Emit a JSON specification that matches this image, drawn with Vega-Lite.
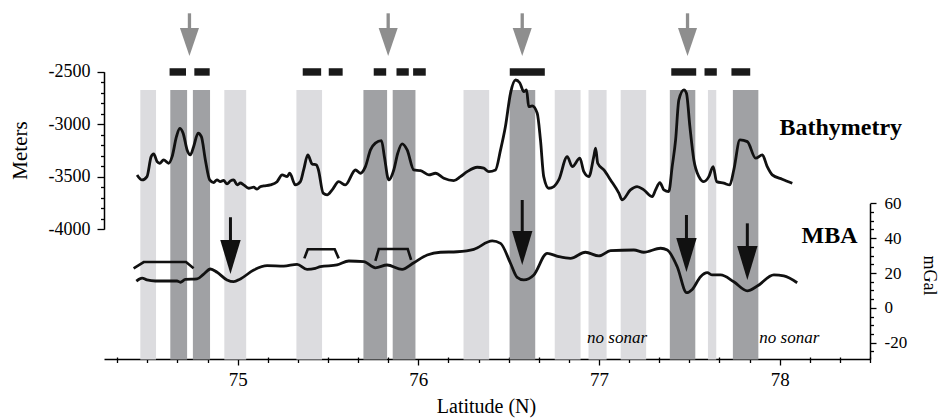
{
  "$schema": "https://vega.github.io/schema/vega-lite/v6.json",
  "width": 766,
  "height": 354,
  "autosize": {"type": "none"},
  "padding": {"left": 104, "top": 5, "right": 69, "bottom": 59},
  "background": "white",
  "config": {"view": {"stroke": null}},
  "datasets": {
    "bands": [
      {"lat": 74.461, "lat2": 74.548, "kind": "light"},
      {"lat": 74.627, "lat2": 74.720, "kind": "dark"},
      {"lat": 74.752, "lat2": 74.847, "kind": "dark"},
      {"lat": 74.926, "lat2": 75.047, "kind": "light"},
      {"lat": 75.325, "lat2": 75.467, "kind": "light"},
      {"lat": 75.696, "lat2": 75.827, "kind": "dark"},
      {"lat": 75.858, "lat2": 75.984, "kind": "dark"},
      {"lat": 76.250, "lat2": 76.392, "kind": "light"},
      {"lat": 76.505, "lat2": 76.647, "kind": "dark"},
      {"lat": 76.755, "lat2": 76.898, "kind": "light"},
      {"lat": 76.942, "lat2": 77.042, "kind": "light"},
      {"lat": 77.120, "lat2": 77.261, "kind": "light"},
      {"lat": 77.392, "lat2": 77.533, "kind": "dark"},
      {"lat": 77.603, "lat2": 77.649, "kind": "light"},
      {"lat": 77.741, "lat2": 77.882, "kind": "dark"}
    ],
    "bars": [
      {"lat": 74.623, "lat2": 74.714},
      {"lat": 74.760, "lat2": 74.845},
      {"lat": 75.360, "lat2": 75.462},
      {"lat": 75.504, "lat2": 75.581},
      {"lat": 75.753, "lat2": 75.822},
      {"lat": 75.879, "lat2": 75.947},
      {"lat": 75.971, "lat2": 76.041},
      {"lat": 76.506, "lat2": 76.700},
      {"lat": 77.400, "lat2": 77.538},
      {"lat": 77.584, "lat2": 77.652},
      {"lat": 77.733, "lat2": 77.837}
    ],
    "grayArrows": [{"lat": 74.733}, {"lat": 75.833}, {"lat": 76.575}, {"lat": 77.490}],
    "blackArrows": [
      {"lat": 74.96, "from": 52.0, "to": 29.2},
      {"lat": 76.575, "from": 61.9, "to": 34.3},
      {"lat": 77.484, "from": 53.3, "to": 30.3},
      {"lat": 77.821, "from": 48.5, "to": 25.7}
    ],
    "bathy": [
      {"lat": 74.443, "depth": -3483}, {"lat": 74.471, "depth": -3531}, {"lat": 74.498, "depth": -3499},
      {"lat": 74.521, "depth": -3309}, {"lat": 74.535, "depth": -3283}, {"lat": 74.554, "depth": -3357},
      {"lat": 74.568, "depth": -3372}, {"lat": 74.590, "depth": -3340}, {"lat": 74.618, "depth": -3372},
      {"lat": 74.637, "depth": -3309}, {"lat": 74.661, "depth": -3119}, {"lat": 74.679, "depth": -3039},
      {"lat": 74.698, "depth": -3086}, {"lat": 74.720, "depth": -3245}, {"lat": 74.738, "depth": -3293},
      {"lat": 74.756, "depth": -3214}, {"lat": 74.781, "depth": -3086}, {"lat": 74.799, "depth": -3119},
      {"lat": 74.821, "depth": -3340}, {"lat": 74.845, "depth": -3531}, {"lat": 74.867, "depth": -3556},
      {"lat": 74.885, "depth": -3530}, {"lat": 74.904, "depth": -3547}, {"lat": 74.922, "depth": -3535},
      {"lat": 74.941, "depth": -3569}, {"lat": 74.960, "depth": -3540}, {"lat": 74.978, "depth": -3531},
      {"lat": 74.997, "depth": -3578}, {"lat": 75.015, "depth": -3560}, {"lat": 75.033, "depth": -3578},
      {"lat": 75.061, "depth": -3610}, {"lat": 75.089, "depth": -3600}, {"lat": 75.107, "depth": -3619},
      {"lat": 75.125, "depth": -3595}, {"lat": 75.144, "depth": -3588}, {"lat": 75.181, "depth": -3578},
      {"lat": 75.218, "depth": -3547}, {"lat": 75.246, "depth": -3483}, {"lat": 75.274, "depth": -3499},
      {"lat": 75.288, "depth": -3467}, {"lat": 75.319, "depth": -3578}, {"lat": 75.347, "depth": -3547},
      {"lat": 75.365, "depth": -3436}, {"lat": 75.388, "depth": -3293}, {"lat": 75.412, "depth": -3378},
      {"lat": 75.436, "depth": -3388}, {"lat": 75.447, "depth": -3436}, {"lat": 75.473, "depth": -3657},
      {"lat": 75.495, "depth": -3673}, {"lat": 75.523, "depth": -3626}, {"lat": 75.559, "depth": -3547},
      {"lat": 75.596, "depth": -3578}, {"lat": 75.652, "depth": -3436}, {"lat": 75.679, "depth": -3467},
      {"lat": 75.707, "depth": -3404}, {"lat": 75.735, "depth": -3245}, {"lat": 75.762, "depth": -3181},
      {"lat": 75.796, "depth": -3157}, {"lat": 75.812, "depth": -3309}, {"lat": 75.836, "depth": -3531},
      {"lat": 75.864, "depth": -3436}, {"lat": 75.886, "depth": -3277}, {"lat": 75.910, "depth": -3188},
      {"lat": 75.938, "depth": -3245}, {"lat": 75.975, "depth": -3436}, {"lat": 76.012, "depth": -3442},
      {"lat": 76.058, "depth": -3483}, {"lat": 76.095, "depth": -3467}, {"lat": 76.141, "depth": -3515},
      {"lat": 76.196, "depth": -3537}, {"lat": 76.233, "depth": -3499}, {"lat": 76.270, "depth": -3452},
      {"lat": 76.326, "depth": -3410}, {"lat": 76.362, "depth": -3419}, {"lat": 76.390, "depth": -3452},
      {"lat": 76.427, "depth": -3436}, {"lat": 76.455, "depth": -3245}, {"lat": 76.482, "depth": -3023},
      {"lat": 76.510, "depth": -2706}, {"lat": 76.538, "depth": -2579}, {"lat": 76.561, "depth": -2605},
      {"lat": 76.584, "depth": -2690}, {"lat": 76.599, "depth": -2674}, {"lat": 76.611, "depth": -2833},
      {"lat": 76.630, "depth": -2826}, {"lat": 76.658, "depth": -2896}, {"lat": 76.676, "depth": -3150},
      {"lat": 76.694, "depth": -3499}, {"lat": 76.722, "depth": -3610}, {"lat": 76.750, "depth": -3594},
      {"lat": 76.777, "depth": -3531}, {"lat": 76.824, "depth": -3309}, {"lat": 76.852, "depth": -3404},
      {"lat": 76.894, "depth": -3324}, {"lat": 76.916, "depth": -3452}, {"lat": 76.944, "depth": -3499},
      {"lat": 76.971, "depth": -3309}, {"lat": 76.981, "depth": -3229}, {"lat": 76.993, "depth": -3372},
      {"lat": 77.027, "depth": -3436}, {"lat": 77.064, "depth": -3531}, {"lat": 77.110, "depth": -3657},
      {"lat": 77.128, "depth": -3721}, {"lat": 77.174, "depth": -3626}, {"lat": 77.211, "depth": -3594},
      {"lat": 77.248, "depth": -3626}, {"lat": 77.295, "depth": -3690}, {"lat": 77.313, "depth": -3626},
      {"lat": 77.337, "depth": -3556}, {"lat": 77.359, "depth": -3626}, {"lat": 77.386, "depth": -3642},
      {"lat": 77.405, "depth": -3404}, {"lat": 77.424, "depth": -3150}, {"lat": 77.442, "depth": -2769},
      {"lat": 77.470, "depth": -2674}, {"lat": 77.484, "depth": -2706}, {"lat": 77.503, "depth": -3023},
      {"lat": 77.525, "depth": -3340}, {"lat": 77.553, "depth": -3499}, {"lat": 77.580, "depth": -3547},
      {"lat": 77.608, "depth": -3499}, {"lat": 77.632, "depth": -3404}, {"lat": 77.651, "depth": -3547},
      {"lat": 77.691, "depth": -3562}, {"lat": 77.724, "depth": -3578}, {"lat": 77.746, "depth": -3436},
      {"lat": 77.780, "depth": -3150}, {"lat": 77.821, "depth": -3166}, {"lat": 77.867, "depth": -3324},
      {"lat": 77.904, "depth": -3293}, {"lat": 77.931, "depth": -3404}, {"lat": 77.959, "depth": -3483},
      {"lat": 78.014, "depth": -3524}, {"lat": 78.070, "depth": -3562}
    ],
    "mba": [
      {"lat": 74.439, "mgal": 15.4}, {"lat": 74.471, "mgal": 17.1}, {"lat": 74.498, "mgal": 16.0},
      {"lat": 74.544, "mgal": 15.4}, {"lat": 74.664, "mgal": 15.4}, {"lat": 74.683, "mgal": 14.7},
      {"lat": 74.710, "mgal": 16.3}, {"lat": 74.775, "mgal": 16.6}, {"lat": 74.812, "mgal": 19.4},
      {"lat": 74.849, "mgal": 22.3}, {"lat": 74.886, "mgal": 20.4}, {"lat": 74.941, "mgal": 16.0},
      {"lat": 74.978, "mgal": 15.0}, {"lat": 75.015, "mgal": 16.6}, {"lat": 75.089, "mgal": 21.7},
      {"lat": 75.163, "mgal": 24.2}, {"lat": 75.255, "mgal": 24.0}, {"lat": 75.329, "mgal": 25.0},
      {"lat": 75.384, "mgal": 22.1}, {"lat": 75.430, "mgal": 22.7}, {"lat": 75.458, "mgal": 23.6},
      {"lat": 75.550, "mgal": 24.6}, {"lat": 75.615, "mgal": 26.9}, {"lat": 75.698, "mgal": 26.5},
      {"lat": 75.762, "mgal": 23.0}, {"lat": 75.827, "mgal": 24.6}, {"lat": 75.910, "mgal": 22.1},
      {"lat": 75.975, "mgal": 25.9}, {"lat": 76.049, "mgal": 30.3}, {"lat": 76.122, "mgal": 31.9},
      {"lat": 76.215, "mgal": 32.2}, {"lat": 76.307, "mgal": 33.6}, {"lat": 76.409, "mgal": 38.4},
      {"lat": 76.455, "mgal": 37.0}, {"lat": 76.510, "mgal": 25.6}, {"lat": 76.547, "mgal": 17.5},
      {"lat": 76.584, "mgal": 16.0}, {"lat": 76.639, "mgal": 18.9}, {"lat": 76.713, "mgal": 31.3},
      {"lat": 76.777, "mgal": 29.4}, {"lat": 76.842, "mgal": 28.4}, {"lat": 76.925, "mgal": 31.9},
      {"lat": 76.999, "mgal": 29.8}, {"lat": 77.064, "mgal": 32.8}, {"lat": 77.193, "mgal": 33.2},
      {"lat": 77.248, "mgal": 31.9}, {"lat": 77.341, "mgal": 34.2}, {"lat": 77.378, "mgal": 33.2},
      {"lat": 77.433, "mgal": 23.6}, {"lat": 77.485, "mgal": 8.7}, {"lat": 77.516, "mgal": 10.6},
      {"lat": 77.562, "mgal": 17.9}, {"lat": 77.599, "mgal": 20.2}, {"lat": 77.627, "mgal": 18.9},
      {"lat": 77.673, "mgal": 18.9}, {"lat": 77.746, "mgal": 15.0}, {"lat": 77.821, "mgal": 9.8},
      {"lat": 77.876, "mgal": 12.5}, {"lat": 77.968, "mgal": 18.9}, {"lat": 78.023, "mgal": 18.3},
      {"lat": 78.097, "mgal": 14.4}
    ],
    "brackets": [
      {"id": 1, "lat": 74.424, "mgal": 22.7}, {"id": 1, "lat": 74.480, "mgal": 26.3},
      {"id": 1, "lat": 74.714, "mgal": 26.3}, {"id": 1, "lat": 74.756, "mgal": 22.7},
      {"id": 2, "lat": 75.369, "mgal": 28.4}, {"id": 2, "lat": 75.388, "mgal": 33.6},
      {"id": 2, "lat": 75.537, "mgal": 33.6}, {"id": 2, "lat": 75.559, "mgal": 28.4},
      {"id": 3, "lat": 75.762, "mgal": 26.9}, {"id": 3, "lat": 75.781, "mgal": 33.8},
      {"id": 3, "lat": 75.941, "mgal": 33.8}, {"id": 3, "lat": 75.960, "mgal": 27.5}
    ],
    "bathyLabel": [{"lat": 78.338, "depth": -3102, "text": "Bathymetry"}],
    "mbaLabel": [{"lat": 78.276, "mgal": 37.0, "text": "MBA"}],
    "noSonar": [
      {"lat": 77.100, "mgal": -20.2, "text": "no sonar"},
      {"lat": 78.053, "mgal": -20.2, "text": "no sonar"}
    ]
  },
  "encoding": {
    "x": {"field": "lat", "type": "quantitative", "scale": {"domain": [74.26, 78.5], "nice": false, "zero": false}, "axis": null}
  },
  "layer": [
    {
      "data": {"name": "bands"},
      "mark": {"type": "rect"},
      "encoding": {
        "x": {
          "field": "lat", "type": "quantitative",
          "scale": {"domain": [74.26, 78.5], "nice": false, "zero": false},
          "axis": {
            "orient": "bottom",
            "values": [75, 76, 77, 78],
            "labelExpr": "toString(datum.value)",
            "tickSize": 6,
            "grid": false,
            "domain": true,
            "domainColor": "black",
            "domainWidth": 1.5,
            "tickColor": "black",
            "tickWidth": 1.3,
            "labelFont": "Liberation Serif",
            "labelFontSize": 19,
            "labelColor": "black",
            "labelPadding": 5,
            "labelFlush": false,
            "labelOverlap": false,
            "title": "Latitude (N)",
            "titleFont": "Liberation Serif",
            "titleFontSize": 20,
            "titleFontWeight": "normal",
            "titleColor": "black",
            "titleX": 382,
            "titleY": 53,
            "titleBaseline": "alphabetic"
          }
        },
        "x2": {"field": "lat2"},
        "y": {"datum": -2674, "type": "quantitative", "scale": {"domain": [-4000, -2500], "range": [224.2, 66.7], "nice": false, "zero": false}, "axis": null},
        "y2": {"datum": -5240},
        "color": {"field": "kind", "type": "nominal", "scale": {"domain": ["light", "dark"], "range": ["#dcdcdf", "#a0a1a4"]}, "legend": null}
      }
    },
    {
      "data": {"name": "bars"},
      "mark": {"type": "rect", "color": "#1a1a1a"},
      "encoding": {
        "x": {
          "field": "lat", "type": "quantitative",
          "scale": {"domain": [74.26, 78.5], "nice": false, "zero": false},
          "axis": {
            "orient": "bottom",
            "values": [74.3333, 74.5, 74.6667, 74.8333, 75.1667, 75.3333, 75.5, 75.6667, 75.8333, 76.1667, 76.3333, 76.5, 76.6667, 76.8333, 77.1667, 77.3333, 77.5, 77.6667, 77.8333, 78.1667, 78.3333, 78.5],
            "labels": false,
            "domain": false,
            "grid": false,
            "offset": -2,
            "tickSize": 5.5,
            "tickColor": "black",
            "tickWidth": 1.3,
            "title": null
          }
        },
        "x2": {"field": "lat2"},
        "y": {"datum": -2467, "type": "quantitative", "scale": {"domain": [-4000, -2500], "range": [224.2, 66.7], "nice": false, "zero": false}, "axis": null},
        "y2": {"datum": -2538}
      }
    },
    {
      "data": {"name": "grayArrows"},
      "mark": {"type": "rule", "color": "#8e8e8e", "strokeWidth": 3.3},
      "encoding": {
        "y": {"datum": -1944, "type": "quantitative", "scale": {"domain": [-4000, -2500], "range": [224.2, 66.7], "nice": false, "zero": false}, "axis": null},
        "y2": {"datum": -2150}
      }
    },
    {
      "data": {"name": "grayArrows"},
      "mark": {"type": "point", "shape": "M-0.68,-1L0.68,-1L0,1Z", "filled": true, "size": 784, "color": "#8e8e8e", "opacity": 1, "strokeWidth": 0},
      "encoding": {
        "y": {"datum": -2217, "type": "quantitative", "scale": {"domain": [-4000, -2500], "range": [224.2, 66.7], "nice": false, "zero": false}, "axis": null}
      }
    },
    {
      "data": {"name": "bathy"},
      "mark": {"type": "line", "color": "#111111", "strokeWidth": 2.8, "interpolate": "monotone"},
      "encoding": {
        "y": {
          "field": "depth",
          "type": "quantitative",
          "scale": {"domain": [-4000, -2500], "range": [224.2, 66.7], "nice": false, "zero": false},
          "axis": {
            "orient": "left",
            "values": [-4000, -3500, -3000, -2500],
            "labelExpr": "toString(datum.value)",
            "tickSize": 7,
            "grid": false,
            "domainColor": "black",
            "domainWidth": 1.5,
            "tickColor": "black",
            "tickWidth": 1.3,
            "labelFont": "Liberation Serif",
            "labelFontSize": 18,
            "labelColor": "black",
            "labelPadding": 7,
            "labelFlush": false,
            "labelOverlap": false,
            "title": "Meters",
            "titleFont": "Liberation Serif",
            "titleFontSize": 21,
            "titleFontWeight": "normal",
            "titleColor": "black",
            "titleAngle": -90,
            "titleX": -84,
            "titleY": 145,
            "titleAlign": "center",
            "titleBaseline": "middle"
          }
        }
      }
    },
    {
      "data": {"name": "bathyLabel"},
      "mark": {"type": "text", "font": "Liberation Serif", "fontSize": 24, "fontWeight": "bold", "color": "black", "align": "center", "baseline": "alphabetic"},
      "encoding": {
        "y": {
          "field": "depth", "type": "quantitative",
          "scale": {"domain": [-4000, -2500], "range": [224.2, 66.7], "nice": false, "zero": false},
          "axis": {
            "orient": "left",
            "values": [-3900, -3800, -3700, -3600, -3400, -3300, -3200, -3100, -2900, -2800, -2700, -2600],
            "labels": false,
            "domain": false,
            "grid": false,
            "tickSize": 3.5,
            "tickColor": "black",
            "tickWidth": 1.3,
            "title": null
          }
        },
        "text": {"field": "text"}
      }
    },
    {
      "data": {"name": "mba"},
      "mark": {"type": "line", "color": "#111111", "strokeWidth": 2.8, "interpolate": "monotone"},
      "encoding": {
        "y": {
          "field": "mgal",
          "type": "quantitative",
          "scale": {"domain": [-29.35, 60], "range": [354, 198.3], "nice": false, "zero": false},
          "axis": {
            "orient": "right",
            "values": [-20, 0, 20, 40, 60],
            "labelExpr": "toString(datum.value)",
            "tickSize": 6,
            "grid": false,
            "domainColor": "black",
            "domainWidth": 1.5,
            "tickColor": "black",
            "tickWidth": 1.3,
            "labelFont": "Liberation Serif",
            "labelFontSize": 17,
            "labelColor": "black",
            "labelPadding": 8,
            "labelFlush": false,
            "labelOverlap": false,
            "title": "mGal",
            "titleFont": "Liberation Serif",
            "titleFontSize": 18,
            "titleFontWeight": "normal",
            "titleColor": "black",
            "titleAngle": 90,
            "titleX": 58,
            "titleY": 270,
            "titleAlign": "center",
            "titleBaseline": "middle"
          }
        }
      }
    },
    {
      "data": {"name": "brackets"},
      "mark": {"type": "line", "color": "#111111", "strokeWidth": 2.6},
      "encoding": {
        "y": {
          "field": "mgal", "type": "quantitative",
          "scale": {"domain": [-29.35, 60], "range": [354, 198.3], "nice": false, "zero": false},
          "axis": {
            "orient": "right",
            "values": [-25, -15, -10, -5, 5, 10, 15, 25, 30, 35, 45, 50, 55],
            "labels": false,
            "domain": false,
            "grid": false,
            "tickSize": 3.5,
            "tickColor": "black",
            "tickWidth": 1.3,
            "title": null
          }
        },
        "detail": {"field": "id", "type": "nominal"}
      }
    },
    {
      "data": {"name": "blackArrows"},
      "mark": {"type": "rule", "color": "#111111", "strokeWidth": 3},
      "encoding": {
        "y": {"field": "from", "type": "quantitative", "scale": {"domain": [-29.35, 60], "range": [354, 198.3], "nice": false, "zero": false}, "axis": null},
        "y2": {"field": "to"}
      }
    },
    {
      "data": {"name": "blackArrows"},
      "mark": {"type": "point", "shape": "M-0.6,-1L0.6,-1L0,1Z", "filled": true, "size": 1156, "color": "#111111", "opacity": 1, "strokeWidth": 0},
      "encoding": {
        "y": {"field": "to", "type": "quantitative", "scale": {"domain": [-29.35, 60], "range": [354, 198.3], "nice": false, "zero": false}, "axis": null}
      }
    },
    {
      "data": {"name": "mbaLabel"},
      "mark": {"type": "text", "font": "Liberation Serif", "fontSize": 24, "fontWeight": "bold", "color": "black", "align": "center", "baseline": "alphabetic"},
      "encoding": {
        "y": {"field": "mgal", "type": "quantitative", "scale": {"domain": [-29.35, 60], "range": [354, 198.3], "nice": false, "zero": false}, "axis": null},
        "text": {"field": "text"}
      }
    },
    {
      "data": {"name": "noSonar"},
      "mark": {"type": "text", "font": "Liberation Serif", "fontSize": 17, "fontStyle": "italic", "color": "black", "align": "center", "baseline": "alphabetic"},
      "encoding": {
        "y": {"field": "mgal", "type": "quantitative", "scale": {"domain": [-29.35, 60], "range": [354, 198.3], "nice": false, "zero": false}, "axis": null},
        "text": {"field": "text"}
      }
    }
  ],
  "resolve": {"scale": {"y": "independent"}, "axis": {"y": "independent", "x": "independent"}}
}
